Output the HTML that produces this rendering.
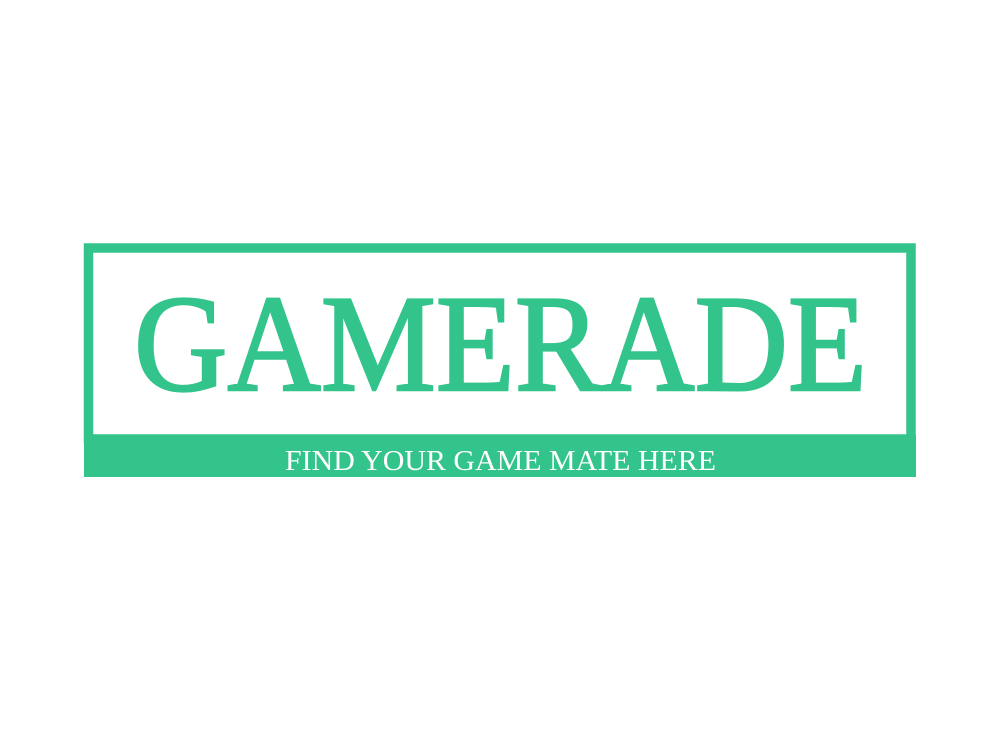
<!DOCTYPE html>
<html><head><meta charset="utf-8"><style>
html,body{margin:0;padding:0;background:#fff;width:1000px;height:750px;overflow:hidden}
</style></head><body>
<svg width="1000" height="750" viewBox="0 0 1000 750">
<rect x="0" y="0" width="1000" height="750" fill="#fff"/>
<rect x="88.5" y="248" width="822.5" height="191" fill="none" stroke="#33c48b" stroke-width="9.5"/>
<rect x="84" y="435" width="832" height="42" fill="#33c48b"/>
<text x="134" y="390" font-family="Liberation Serif, serif" font-size="138" fill="#33c48b" stroke="#33c48b" stroke-width="2.5" textLength="733" lengthAdjust="spacingAndGlyphs">GAMERADE</text>
<text x="285" y="470" font-family="Liberation Serif, serif" font-size="28" fill="#fff" textLength="431" lengthAdjust="spacingAndGlyphs">FIND YOUR GAME MATE HERE</text>
</svg>
</body></html>
